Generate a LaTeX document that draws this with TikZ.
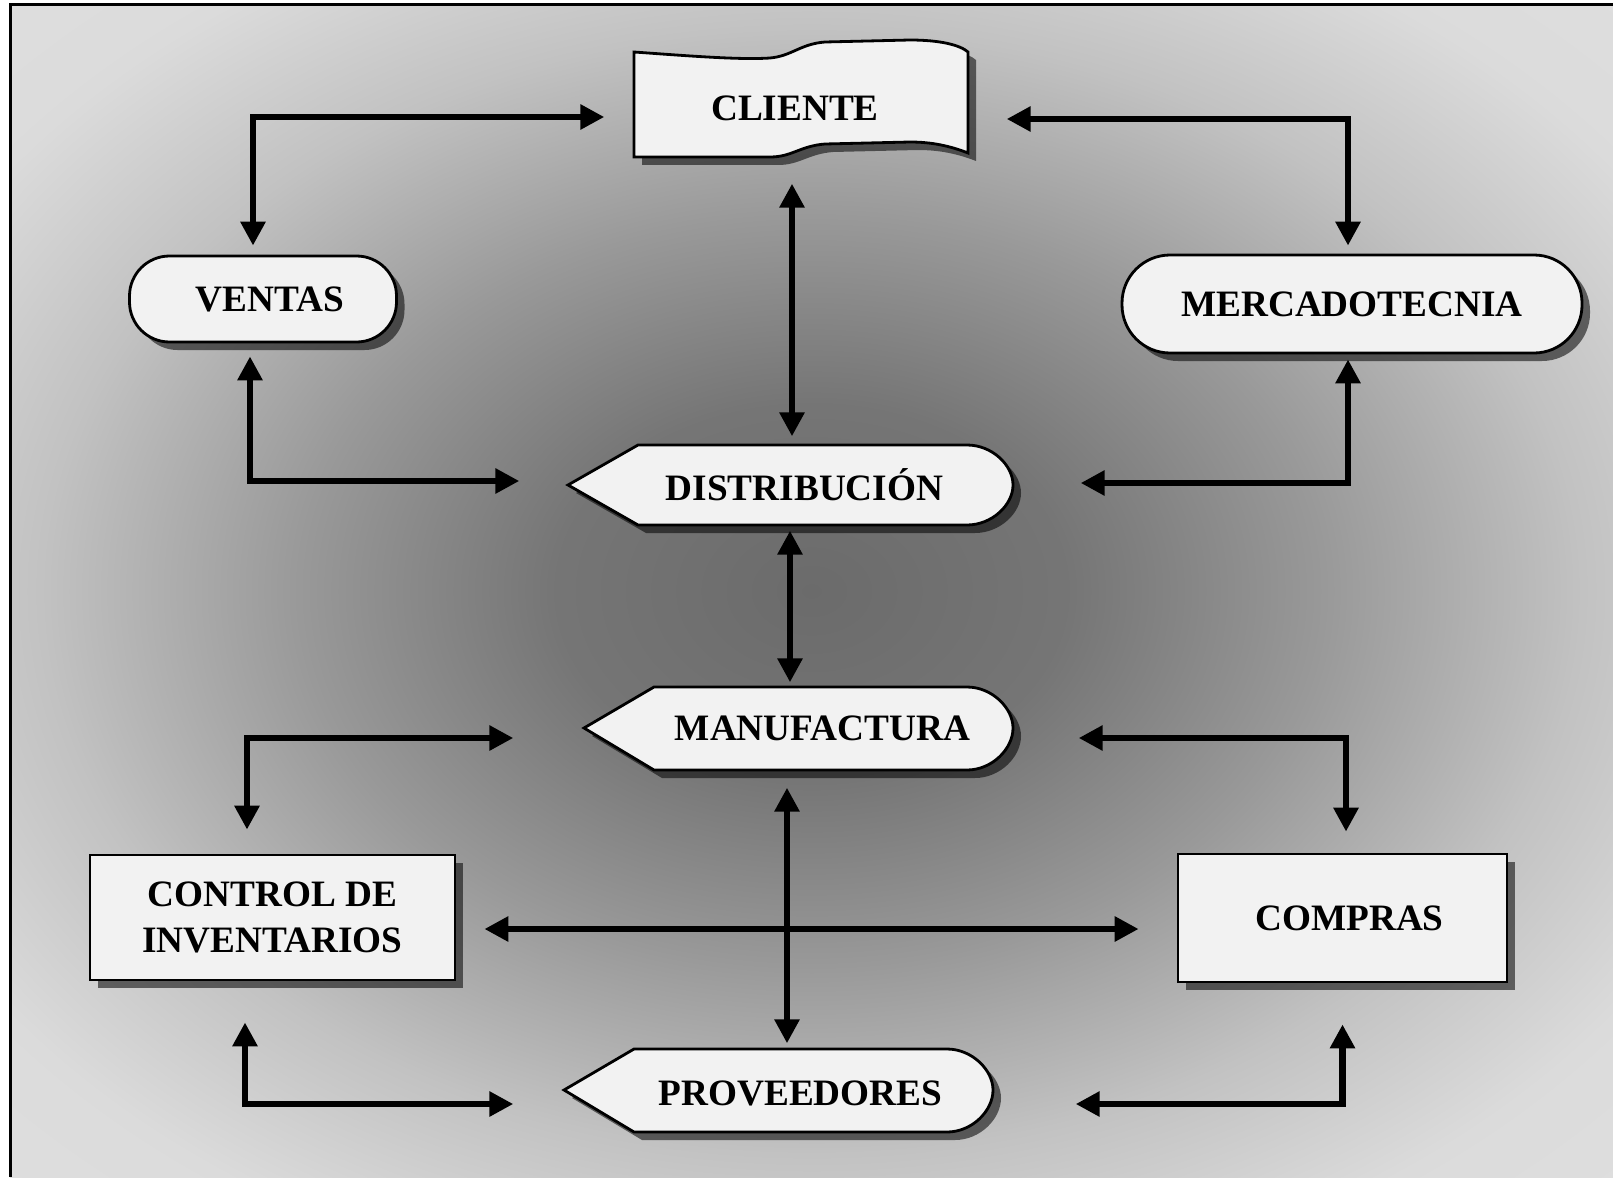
\documentclass[tikz,border=0pt]{standalone}
\usepackage{fontspec}
\setmainfont{Liberation Serif}
\usetikzlibrary{arrows.meta,shadows}

\pgfdeclareradialshading{fondo}{\pgfpoint{0bp}{0bp}}{color(0bp)=(black!58); color(8bp)=(black!54); color(16bp)=(black!40); color(24bp)=(black!24); color(31bp)=(black!14); color(50bp)=(black!10)}

\tikzset{
  sombra/.style={drop shadow={shadow xshift=0.8mm, shadow yshift=-0.8mm, opacity=0.55, fill=black}},
  forma/.style={draw, line width=0.28mm, fill=black!5, sombra},
  texto/.style={font=\bfseries\fontsize{10.6}{13}\selectfont, align=center, inner sep=0pt},
  caja/.style={forma, texto},
  pill/.style={caja, rounded corners=4mm},
  rotulo/.style={texto},
  link/.style={line width=0.65mm, {Triangle[length=2.4mm,width=2.4mm]}-{Triangle[length=2.4mm,width=2.4mm]}}
}

\begin{document}
\begin{tikzpicture}[x=0.1mm,y=-0.1mm]
  \useasboundingbox (0,0) rectangle (1613,1177);
  % fondo y marco
  \shade[shading=fondo] (10,5) rectangle (1613,1177);
  \draw[line width=0.3mm] (10,1177) -- (10,5) -- (1613,5);

  % formas
  \path[forma] (634,52) .. controls (690,56) and (740,60) .. (770,58) .. controls (792,56) and (800,44) .. (825,42)
    -- (910,40) .. controls (940,40) and (960,45) .. (968,52) -- (968,153)
    .. controls (950,146) and (932,142) .. (910,142) -- (825,144) .. controls (800,146) and (792,157) .. (770,157)
    -- (634,157) -- cycle;
  \path[forma] (568,485) -- (638,445) -- (967,445) .. controls (992,445) and (1013,465) .. (1013,485)
    .. controls (1013,505) and (992,525) .. (967,525) -- (638,525) -- cycle;
  \path[forma] (584,728) -- (654,687) -- (967,687) .. controls (992,687) and (1013,708) .. (1013,728)
    .. controls (1013,749) and (992,770) .. (967,770) -- (654,770) -- cycle;
  \path[forma] (564,1090) -- (634,1049) -- (947,1049) .. controls (972,1049) and (993,1070) .. (993,1090)
    .. controls (993,1111) and (972,1132) .. (947,1132) -- (634,1132) -- cycle;

  % nodos
  \node[rotulo, minimum width=33.4mm, minimum height=11.7mm] (cliente) at (795,108) {CLIENTE};
  \node[pill, minimum width=26.7mm, minimum height=8.6mm] (ventas) at (263,299) {\hspace*{1.4mm}VENTAS};
  \node[pill, rounded corners=4.8mm, minimum width=46mm, minimum height=9.8mm] (mercado) at (1352,304) {MERCADOTECNIA};
  \node[rotulo, minimum width=44.5mm, minimum height=8mm] (distribucion) at (804.5,485) {DISTRIBUCIÓN};
  \node[rotulo, minimum width=42.9mm, minimum height=8.3mm] (manufactura) at (822.5,728.5) {MANUFACTURA};
  \node[caja, minimum width=36.5mm, minimum height=12.5mm] (control) at (272.5,917.5) {CONTROL DE\\INVENTARIOS};
  \node[caja, minimum width=32.9mm, minimum height=12.8mm] (compras) at (1342.5,918) {\hspace*{1.4mm}COMPRAS};
  \node[rotulo, minimum width=42.9mm, minimum height=8.3mm] (proveedores) at (800.5,1093.5) {PROVEEDORES};

  % conexiones
  \draw[link, shorten <=0.9mm, shorten >=2.3mm] ([xshift=-1mm]ventas.north) |- ([yshift=-0.9mm]cliente.west);
  \draw[link, shorten <=4.4mm, shorten >=0.8mm] ([yshift=-1.1mm]cliente.east) -| ([xshift=-0.4mm]mercado.north);
  \draw[link, shorten <=1.65mm, shorten >=0.8mm] ([xshift=-0.3mm]cliente.south) -- ([xshift=-0.3mm]cliente.south |- distribucion.north);
  \draw[link, shorten <=1.3mm, shorten >=6.2mm] ([xshift=-1.3mm]ventas.south) |- ([yshift=0.4mm]distribucion.west);
  \draw[link, shorten <=5.3mm, shorten >=0.5mm] ([yshift=0.2mm]distribucion.east) -| ([xshift=-0.4mm]mercado.south);
  \draw[link, shorten <=0.5mm, shorten >=0.4mm] ([xshift=-1.45mm]distribucion.south) -- ([xshift=-1.45mm]distribucion.south |- manufactura.north);
  \draw[link, shorten <=9.4mm, shorten >=2.4mm] ([yshift=-0.95mm]manufactura.west) -| ([xshift=-2.55mm]control.north);
  \draw[link, shorten <=4.1mm, shorten >=2.1mm] ([yshift=-0.95mm]manufactura.east) -| ([xshift=0.35mm]compras.north);
  \draw[link, shorten <=1.7mm, shorten >=0.8mm] ([xshift=-3.55mm]manufactura.south) -- ([xshift=-3.55mm]manufactura.south |- proveedores.north);
  \draw[link, shorten <=2.8mm, shorten >=3.8mm] ([yshift=-1.15mm]control.east) -- ([yshift=-1.15mm]control.east -| compras.west);
  \draw[link, shorten <=4.1mm, shorten >=7.2mm] ([xshift=-2.75mm]control.south) |- ([yshift=-1.05mm]proveedores.west);
  \draw[link, shorten <=6mm, shorten >=4.1mm] ([yshift=-1.05mm]proveedores.east) -| (compras.south);
\end{tikzpicture}
\end{document}
